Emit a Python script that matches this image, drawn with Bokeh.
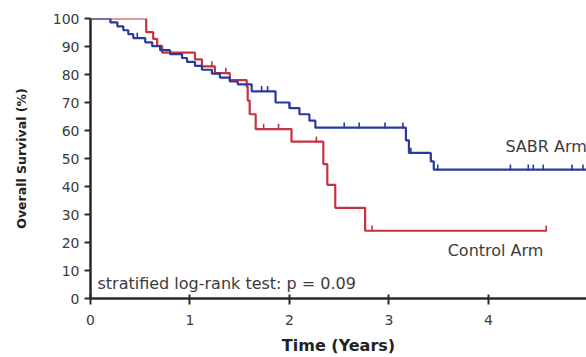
from bokeh.plotting import figure
from bokeh.models import ColumnDataSource, FixedTicker, Label
from bokeh.embed import file_html
from bokeh.resources import INLINE
import math

# ---- data ----
sabr_t = [0.0, 0.20, 0.27, 0.33, 0.38, 0.43, 0.55, 0.62, 0.70, 0.80, 0.92, 0.97, 1.05,
          1.12, 1.22, 1.30, 1.40, 1.48, 1.62, 1.86, 2.00, 2.10, 2.20, 2.26, 3.17, 3.20,
          3.42, 3.45]
sabr_s = [100.0, 98.6, 97.2, 95.8, 94.4, 93.0, 91.5, 90.1, 88.7, 87.3, 85.9, 84.5, 83.1,
          81.7, 80.3, 78.9, 77.5, 76.5, 74.0, 70.0, 68.0, 65.8, 63.5, 61.0, 56.5, 52.0,
          49.0, 46.0]
sabr_end = 5.0
sabr_cens = [0.47, 1.72, 1.78, 2.00, 2.55, 2.70, 2.96, 3.14, 3.22, 3.42, 3.49, 4.22,
             4.40, 4.45, 4.55, 4.84, 4.95]

ctrl_t = [0.0, 0.56, 0.63, 0.67, 0.72, 1.05, 1.12, 1.25, 1.40, 1.57, 1.58, 1.60, 1.66,
          2.02, 2.34, 2.38, 2.46, 2.76]
ctrl_s = [100.0, 95.1, 92.7, 90.2, 87.8, 85.4, 82.9, 80.5, 78.0, 75.6, 70.7, 65.8, 60.5,
          56.0, 48.0, 40.6, 32.4, 24.2]
ctrl_end = 4.58
ctrl_cens = [1.22, 1.36, 1.74, 1.89, 2.27, 2.83, 4.58]

y_ticks = [0, 10, 20, 30, 40, 50, 60, 70, 80, 90, 100]
x_ticks = [0, 1, 2, 3, 4, 5]

RED = "#c43340"
BLUE = "#283a9c"
TXT = "#3c3c3c"
FONT = "DejaVu Sans"


def surv_at(ts, ss, t):
    v = ss[0]
    for ti, si in zip(ts, ss):
        if ti <= t:
            v = si
    return v


p = figure(width=586, height=357, x_range=(0, 4.985), y_range=(0, 100),
           output_backend="svg", toolbar_location=None,
           min_border_left=90, min_border_right=0, min_border_top=18,
           min_border_bottom=58)
p.outline_line_color = None
p.grid.visible = False
p.background_fill_color = "white"
p.border_fill_color = "white"

for ts, ss, end, cens, col in [(ctrl_t, ctrl_s, ctrl_end, ctrl_cens, RED),
                              (sabr_t, sabr_s, sabr_end, sabr_cens, BLUE)]:
    src = ColumnDataSource(dict(x=ts + [end], y=ss + [ss[-1]]))
    p.step("x", "y", source=src, mode="after", line_color=col, line_width=2.2)
    csrc = ColumnDataSource(dict(x=cens, y=[surv_at(ts, ss, c) + 0.8 for c in cens]))
    p.scatter("x", "y", source=csrc, marker="dash", angle=math.pi / 2, size=6,
              line_color=col, line_width=1.6)

for ax in (p.xaxis[0], p.yaxis[0]):
    ax.axis_line_color = "#2a2a2a"
    ax.axis_line_width = 2.5
    ax.major_tick_line_color = "#2a2a2a"
    ax.major_tick_line_width = 2
    ax.minor_tick_line_color = None
    ax.major_label_text_font = FONT
    ax.major_label_text_font_size = "14px"
    ax.major_label_text_color = TXT
    ax.axis_label_text_font = FONT
    ax.axis_label_text_font_style = "bold"
    ax.axis_label_text_color = "#222222"

p.xaxis.ticker = FixedTicker(ticks=x_ticks)
p.yaxis.ticker = FixedTicker(ticks=y_ticks)
p.xaxis.major_tick_in = 4
p.xaxis.major_tick_out = 6
p.yaxis.major_tick_in = 0
p.yaxis.major_tick_out = 6
p.xaxis.major_label_standoff = 10
p.yaxis.major_label_standoff = 5
p.xaxis.axis_label = "Time (Years)"
p.yaxis.axis_label = "Overall Survival (%)"
p.xaxis.axis_label_text_font_size = "16px"
p.yaxis.axis_label_text_font_size = "12.5px"
p.xaxis.axis_label_standoff = 8
p.yaxis.axis_label_standoff = 21

p.add_layout(Label(x=0.07, y=5.3, text="stratified log-rank test: p = 0.09",
                   text_font=FONT, text_font_size="16px", text_color=TXT,
                   text_baseline="middle"))
p.add_layout(Label(x=4.17, y=54.4, text="SABR Arm", text_font=FONT,
                   text_font_size="16px", text_color=TXT, text_baseline="middle"))
p.add_layout(Label(x=3.59, y=17.1, text="Control Arm", text_font=FONT,
                   text_font_size="16px", text_color=TXT, text_baseline="middle"))

open("out.html", "w").write(file_html(p, INLINE))
